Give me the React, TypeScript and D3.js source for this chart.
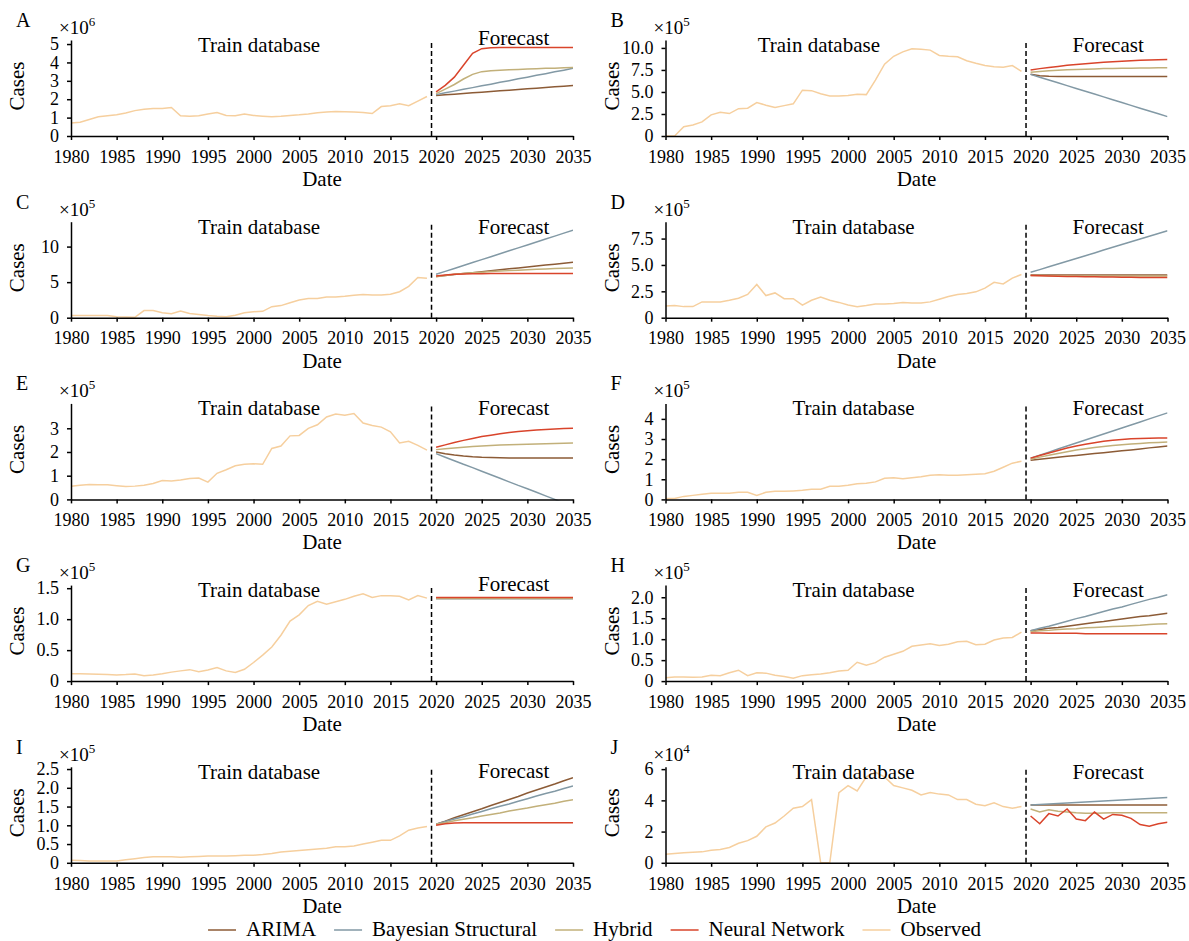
import React, { useEffect, useRef } from 'react';
import * as d3 from 'd3';

const years = d3.range(1980, 2020);
const forecastYears = d3.range(2020, 2036);

const panelIds = ['A', 'B', 'C', 'D', 'E', 'F', 'G', 'H', 'I', 'J'];
const exponents = [6, 5, 5, 5, 5, 5, 5, 5, 5, 4];
const yMax = [5.22, 10.9, 13.5, 9.1, 4.05, 4.77, 1.55, 2.29, 2.56, 6.15];
const yTicks = [
  [0, 1, 2, 3, 4, 5],
  [0, 2.5, 5, 7.5, 10],
  [0, 5, 10],
  [0, 2.5, 5, 7.5],
  [0, 1, 2, 3],
  [0, 1, 2, 3, 4],
  [0, 0.5, 1, 1.5],
  [0, 0.5, 1, 1.5, 2],
  [0, 0.5, 1, 1.5, 2, 2.5],
  [0, 2, 4, 6],
];
const yDecimals = [0, 1, 0, 1, 0, 0, 1, 1, 1, 0];
// year where "Train database" is centred, and lift of the "Forecast" label
const trainCenter = [2000.6, 1996.8, 2000.6, 2000.6, 2000.6, 2000.6, 2000.6, 2000.6, 2000.6, 2000.6];
const forecastLift = [7, 0, 0, 0, 0, 0, 6, 0, 1, 0];

// observed, 1980-2019
const obsA = [0.70, 0.75, 0.90, 1.05, 1.10, 1.15, 1.25, 1.38, 1.45, 1.50, 1.50, 1.55, 1.10, 1.07, 1.10, 1.20, 1.28, 1.12, 1.10, 1.20, 1.12, 1.08, 1.05, 1.07, 1.12, 1.15, 1.20, 1.27, 1.30, 1.33, 1.32, 1.30, 1.28, 1.22, 1.60, 1.65, 1.75, 1.65, 1.90, 2.15];
const obsB = [0, 0, 1.05, 1.25, 1.60, 2.40, 2.70, 2.55, 3.10, 3.15, 3.80, 3.50, 3.25, 3.45, 3.65, 5.20, 5.15, 4.80, 4.55, 4.55, 4.60, 4.75, 4.70, 6.35, 8.15, 9.05, 9.55, 9.90, 9.85, 9.75, 9.15, 9.05, 9.00, 8.55, 8.25, 8.00, 7.85, 7.80, 8.00, 7.35];
const obsC = [0.30, 0.30, 0.30, 0.30, 0.30, 0.15, 0.10, 0.05, 1.00, 1.00, 0.70, 0.55, 0.95, 0.60, 0.45, 0.30, 0.20, 0.15, 0.35, 0.70, 0.85, 0.90, 1.55, 1.70, 2.10, 2.50, 2.70, 2.70, 2.90, 2.90, 3.00, 3.15, 3.25, 3.20, 3.20, 3.30, 3.65, 4.40, 5.65, 5.55];
const obsD = [1.10, 1.15, 1.05, 1.05, 1.50, 1.50, 1.50, 1.65, 1.85, 2.20, 3.15, 2.10, 2.35, 1.80, 1.80, 1.20, 1.65, 1.95, 1.65, 1.45, 1.20, 1.05, 1.15, 1.30, 1.30, 1.35, 1.45, 1.40, 1.40, 1.50, 1.75, 2.00, 2.20, 2.30, 2.45, 2.80, 3.35, 3.20, 3.75, 4.10];
const obsE = [0.55, 0.60, 0.63, 0.62, 0.62, 0.58, 0.54, 0.56, 0.60, 0.67, 0.80, 0.78, 0.82, 0.88, 0.90, 0.73, 1.10, 1.25, 1.42, 1.48, 1.50, 1.48, 2.15, 2.25, 2.68, 2.70, 3.00, 3.15, 3.48, 3.60, 3.55, 3.62, 3.22, 3.12, 3.05, 2.85, 2.38, 2.45, 2.28, 2.08];
const obsF = [0.05, 0.05, 0.15, 0.20, 0.25, 0.30, 0.30, 0.30, 0.35, 0.35, 0.20, 0.35, 0.40, 0.40, 0.42, 0.45, 0.50, 0.50, 0.65, 0.65, 0.70, 0.78, 0.80, 0.87, 1.05, 1.07, 1.03, 1.08, 1.12, 1.20, 1.22, 1.20, 1.20, 1.22, 1.25, 1.28, 1.40, 1.60, 1.80, 1.90];
const obsG = [0.12, 0.12, 0.115, 0.11, 0.105, 0.10, 0.105, 0.115, 0.085, 0.10, 0.12, 0.145, 0.165, 0.185, 0.15, 0.18, 0.22, 0.165, 0.14, 0.19, 0.30, 0.42, 0.55, 0.74, 0.97, 1.07, 1.22, 1.29, 1.24, 1.28, 1.32, 1.37, 1.41, 1.35, 1.38, 1.38, 1.37, 1.31, 1.38, 1.34];
const obsH = [0.08, 0.10, 0.10, 0.09, 0.10, 0.14, 0.13, 0.20, 0.26, 0.13, 0.20, 0.19, 0.14, 0.11, 0.07, 0.13, 0.15, 0.17, 0.20, 0.24, 0.26, 0.45, 0.38, 0.44, 0.57, 0.64, 0.71, 0.83, 0.86, 0.89, 0.85, 0.88, 0.94, 0.95, 0.87, 0.88, 0.98, 1.03, 1.04, 1.17];
const obsI = [0.07, 0.06, 0.05, 0.05, 0.05, 0.05, 0.08, 0.11, 0.14, 0.16, 0.16, 0.16, 0.15, 0.16, 0.17, 0.18, 0.18, 0.18, 0.19, 0.20, 0.20, 0.22, 0.25, 0.29, 0.31, 0.33, 0.35, 0.37, 0.39, 0.43, 0.43, 0.45, 0.50, 0.55, 0.60, 0.60, 0.72, 0.87, 0.93, 0.97];
const obsJ = [0.55, 0.60, 0.65, 0.68, 0.70, 0.80, 0.85, 0.98, 1.25, 1.42, 1.70, 2.30, 2.55, 3.00, 3.50, 3.60, 4.05, 0, 0, 4.50, 4.95, 4.60, 5.50, 5.80, 5.50, 4.95, 4.80, 4.65, 4.35, 4.50, 4.40, 4.35, 4.05, 4.05, 3.75, 3.65, 3.85, 3.60, 3.50, 3.60];

// forecasts, 2020-2035
const arimaA = [2.20, 2.24, 2.27, 2.31, 2.35, 2.38, 2.42, 2.46, 2.49, 2.53, 2.57, 2.60, 2.64, 2.68, 2.71, 2.75];
const bayesA = [2.25, 2.35, 2.44, 2.54, 2.63, 2.73, 2.82, 2.92, 3.01, 3.11, 3.20, 3.30, 3.39, 3.49, 3.58, 3.68];
const hybridA = [2.30, 2.55, 2.80, 3.10, 3.35, 3.50, 3.55, 3.58, 3.60, 3.62, 3.64, 3.66, 3.68, 3.69, 3.71, 3.72];
const nnA = [2.40, 2.75, 3.20, 3.85, 4.50, 4.75, 4.80, 4.81, 4.81, 4.81, 4.81, 4.81, 4.81, 4.81, 4.81, 4.81];

const arimaB = [7.00, 6.85, 6.78, 6.76, 6.75, 6.75, 6.75, 6.75, 6.75, 6.75, 6.75, 6.75, 6.75, 6.75, 6.75, 6.75];
const bayesB = [7.00, 6.68, 6.36, 6.04, 5.72, 5.40, 5.08, 4.76, 4.44, 4.12, 3.80, 3.48, 3.16, 2.84, 2.52, 2.20];
const hybridB = [7.25, 7.33, 7.40, 7.46, 7.51, 7.55, 7.59, 7.62, 7.65, 7.67, 7.69, 7.70, 7.72, 7.73, 7.74, 7.75];
const nnB = [7.50, 7.65, 7.78, 7.90, 8.02, 8.12, 8.21, 8.29, 8.36, 8.43, 8.49, 8.54, 8.59, 8.63, 8.67, 8.70];

const arimaC = [5.80, 5.93, 6.07, 6.20, 6.33, 6.47, 6.60, 6.73, 6.87, 7.00, 7.13, 7.27, 7.40, 7.53, 7.67, 7.80];
const bayesC = [6.10, 6.51, 6.93, 7.34, 7.75, 8.17, 8.58, 8.99, 9.41, 9.82, 10.23, 10.65, 11.06, 11.47, 11.89, 12.30];
const hybridC = [5.75, 5.95, 6.10, 6.22, 6.32, 6.40, 6.48, 6.55, 6.62, 6.68, 6.74, 6.80, 6.86, 6.91, 6.96, 7.00];
const nnC = [5.85, 6.00, 6.10, 6.15, 6.18, 6.19, 6.20, 6.20, 6.20, 6.20, 6.20, 6.20, 6.20, 6.20, 6.20, 6.20];

const arimaD = [4.05, 4.05, 4.05, 4.05, 4.05, 4.05, 4.05, 4.05, 4.05, 4.05, 4.05, 4.05, 4.05, 4.05, 4.05, 4.05];
const bayesD = [4.30, 4.56, 4.83, 5.09, 5.35, 5.62, 5.88, 6.14, 6.41, 6.67, 6.93, 7.20, 7.46, 7.72, 7.99, 8.25];
const hybridD = [4.00, 3.99, 3.98, 3.97, 3.97, 3.96, 3.96, 3.96, 3.95, 3.95, 3.95, 3.95, 3.95, 3.95, 3.95, 3.95];
const nnD = [4.00, 3.97, 3.95, 3.93, 3.91, 3.90, 3.88, 3.87, 3.86, 3.85, 3.84, 3.83, 3.82, 3.81, 3.80, 3.80];

const arimaE = [2.00, 1.93, 1.87, 1.83, 1.80, 1.78, 1.77, 1.76, 1.75, 1.75, 1.75, 1.75, 1.75, 1.75, 1.75, 1.75];
const bayesE = [1.93, 1.78, 1.63, 1.48, 1.34, 1.19, 1.04, 0.89, 0.74, 0.59, 0.45, 0.30, 0.15, 0.00, -0.15, -0.30];
const hybridE = [2.10, 2.14, 2.17, 2.20, 2.23, 2.25, 2.27, 2.29, 2.31, 2.32, 2.33, 2.34, 2.35, 2.36, 2.37, 2.38];
const nnE = [2.20, 2.30, 2.40, 2.49, 2.57, 2.65, 2.71, 2.77, 2.82, 2.86, 2.90, 2.93, 2.95, 2.97, 2.99, 3.00];

const arimaF = [1.95, 2.00, 2.04, 2.09, 2.14, 2.18, 2.23, 2.28, 2.32, 2.37, 2.42, 2.46, 2.51, 2.56, 2.60, 2.65];
const bayesF = [2.05, 2.20, 2.35, 2.50, 2.65, 2.80, 2.95, 3.10, 3.25, 3.40, 3.55, 3.70, 3.85, 4.00, 4.15, 4.30];
const hybridF = [2.00, 2.10, 2.19, 2.28, 2.37, 2.45, 2.52, 2.58, 2.63, 2.68, 2.72, 2.75, 2.78, 2.81, 2.83, 2.85];
const nnF = [2.05, 2.18, 2.31, 2.43, 2.55, 2.65, 2.74, 2.82, 2.89, 2.94, 2.98, 3.01, 3.03, 3.04, 3.05, 3.05];

const arimaG = [1.34, 1.34, 1.34, 1.34, 1.34, 1.34, 1.34, 1.34, 1.34, 1.34, 1.34, 1.34, 1.34, 1.34, 1.34, 1.34];
const bayesG = [1.33, 1.33, 1.33, 1.33, 1.33, 1.33, 1.33, 1.33, 1.33, 1.33, 1.33, 1.33, 1.33, 1.33, 1.33, 1.33];
const hybridG = [1.335, 1.335, 1.335, 1.335, 1.335, 1.335, 1.335, 1.335, 1.335, 1.335, 1.335, 1.335, 1.335, 1.335, 1.335, 1.335];
const nnG = [1.35, 1.35, 1.35, 1.35, 1.35, 1.35, 1.35, 1.35, 1.35, 1.35, 1.35, 1.35, 1.35, 1.35, 1.35, 1.35];

const arimaH = [1.20, 1.23, 1.26, 1.28, 1.31, 1.34, 1.37, 1.40, 1.42, 1.45, 1.48, 1.51, 1.54, 1.56, 1.59, 1.62];
const bayesH = [1.20, 1.26, 1.31, 1.37, 1.43, 1.49, 1.54, 1.60, 1.66, 1.72, 1.77, 1.83, 1.89, 1.95, 2.00, 2.06];
const hybridH = [1.18, 1.20, 1.21, 1.23, 1.24, 1.25, 1.27, 1.28, 1.29, 1.30, 1.31, 1.32, 1.33, 1.35, 1.36, 1.37];
const nnH = [1.15, 1.15, 1.14, 1.14, 1.14, 1.14, 1.13, 1.13, 1.13, 1.13, 1.13, 1.13, 1.13, 1.13, 1.13, 1.13];

const arimaI = [1.03, 1.11, 1.20, 1.28, 1.36, 1.44, 1.53, 1.61, 1.69, 1.77, 1.86, 1.94, 2.02, 2.10, 2.19, 2.27];
const bayesI = [1.03, 1.10, 1.17, 1.23, 1.30, 1.37, 1.44, 1.51, 1.57, 1.64, 1.71, 1.78, 1.85, 1.91, 1.98, 2.05];
const hybridI = [1.03, 1.07, 1.12, 1.16, 1.20, 1.25, 1.29, 1.33, 1.38, 1.42, 1.46, 1.51, 1.55, 1.59, 1.64, 1.68];
const nnI = [1.00, 1.04, 1.06, 1.07, 1.07, 1.07, 1.07, 1.07, 1.07, 1.07, 1.07, 1.07, 1.07, 1.07, 1.07, 1.07];

const arimaJ = [3.70, 3.70, 3.70, 3.70, 3.70, 3.70, 3.70, 3.70, 3.70, 3.70, 3.70, 3.70, 3.70, 3.70, 3.70, 3.70];
const bayesJ = [3.70, 3.73, 3.76, 3.80, 3.83, 3.86, 3.89, 3.92, 3.96, 3.99, 4.02, 4.05, 4.08, 4.12, 4.15, 4.18];
const hybridJ = [3.45, 3.25, 3.40, 3.30, 3.25, 3.20, 3.18, 3.18, 3.19, 3.20, 3.20, 3.20, 3.20, 3.20, 3.20, 3.20];
const nnJ = [3.00, 2.50, 3.15, 3.00, 3.45, 2.80, 2.70, 3.25, 2.80, 3.10, 3.05, 2.85, 2.45, 2.35, 2.50, 2.60];

const observed = [obsA, obsB, obsC, obsD, obsE, obsF, obsG, obsH, obsI, obsJ];
const arima = [arimaA, arimaB, arimaC, arimaD, arimaE, arimaF, arimaG, arimaH, arimaI, arimaJ];
const bayes = [bayesA, bayesB, bayesC, bayesD, bayesE, bayesF, bayesG, bayesH, bayesI, bayesJ];
const hybrid = [hybridA, hybridB, hybridC, hybridD, hybridE, hybridF, hybridG, hybridH, hybridI, hybridJ];
const nn = [nnA, nnB, nnC, nnD, nnE, nnF, nnG, nnH, nnI, nnJ];

const seriesNames = ['ARIMA', 'Bayesian Structural', 'Hybrid', 'Neural Network', 'Observed'];
const seriesColors = ['#8c5b36', '#8299a5', '#c2b07a', '#d9442b', '#f6cf9e'];

const FONT = '"Liberation Serif", "Times New Roman", serif';

export default function App() {
  const ref = useRef<SVGSVGElement>(null);

  useEffect(() => {
    const svg = d3.select(ref.current);
    svg.selectAll('*').remove();
    svg.attr('font-family', FONT);

    const line = (x, y) =>
      d3.line<[number, number]>().x(d => x(d[0])).y(d => y(d[1]));

    panelIds.forEach((id, i) => {
      const col = i % 2;
      const row = Math.floor(i / 2);
      const left = col * 594.5;
      const x0 = left + 71;
      const x1 = left + 573;
      const y0 = 136 + row * 181.7;
      const yTop = y0 - 96;

      const x = d3.scaleLinear().domain([1980, 2035]).range([x0, x1]);
      const y = d3.scaleLinear().domain([0, yMax[i]]).range([y0, yTop]);
      const g = svg.append('g');

      g.append('clipPath').attr('id', 'clip-' + id)
        .append('rect')
        .attr('x', x0).attr('y', yTop)
        .attr('width', x1 - x0).attr('height', y0 - yTop + 1);

      const lines = g.append('g').attr('clip-path', `url(#clip-${id})`);
      const mk = line(x, y);

      lines.append('path')
        .datum(years.map((yr, k) => [yr, observed[i][k]]))
        .attr('d', mk).attr('fill', 'none')
        .attr('stroke', seriesColors[4]).attr('stroke-width', 1.5);

      [arima, bayes, hybrid, nn].forEach((set, s) => {
        lines.append('path')
          .datum(forecastYears.map((yr, k) => [yr, set[i][k]]))
          .attr('d', mk).attr('fill', 'none')
          .attr('stroke', seriesColors[s]).attr('stroke-width', 1.5);
      });

      // divider between train and forecast
      g.append('line')
        .attr('x1', x(2019.5)).attr('x2', x(2019.5))
        .attr('y1', y0).attr('y2', yTop)
        .attr('stroke', '#000').attr('stroke-width', 1.5)
        .attr('stroke-dasharray', '5,3');

      const xAxis = g.append('g')
        .attr('transform', `translate(0,${y0})`)
        .call(d3.axisBottom(x).tickValues(d3.range(1980, 2036, 5))
          .tickFormat(d3.format('d')).tickSize(4).tickSizeOuter(0).tickPadding(10));
      const yAxis = g.append('g')
        .attr('transform', `translate(${x0},0)`)
        .call(d3.axisLeft(y).tickValues(yTicks[i])
          .tickFormat(v => (v === 0 ? '0' : (+v).toFixed(yDecimals[i])))
          .tickSize(4).tickSizeOuter(0).tickPadding(8));
      [xAxis, yAxis].forEach(a => {
        a.attr('font-family', FONT).attr('font-size', 18);
        a.selectAll('path, line').attr('stroke', '#000').attr('stroke-width', 1.5);
        a.selectAll('text').attr('fill', '#000');
      });

      g.append('text').attr('x', (x0 + x1) / 2).attr('y', y0 + 50)
        .attr('text-anchor', 'middle').attr('font-size', 21).text('Date');

      g.append('text')
        .attr('transform', `translate(${left + 24},${y0 - 50}) rotate(-90)`)
        .attr('text-anchor', 'middle').attr('font-size', 21).text('Cases');

      g.append('text').attr('x', left + 16).attr('y', y0 - 109)
        .attr('font-size', 20).text(id);

      const ex = g.append('text').attr('x', left + 59).attr('y', y0 - 102)
        .attr('font-size', 19);
      ex.append('tspan').text('×10');
      ex.append('tspan').attr('font-size', 13).attr('dy', -8).text(String(exponents[i]));

      g.append('text').attr('x', x(trainCenter[i])).attr('y', y0 - 84)
        .attr('text-anchor', 'middle').attr('font-size', 21).text('Train database');

      g.append('text').attr('x', x(2028.5)).attr('y', y0 - 84 - forecastLift[i])
        .attr('text-anchor', 'middle').attr('font-size', 21).text('Forecast');
    });

    // legend, centred under the panels
    const legend = svg.append('g').attr('font-size', 21);
    const items = seriesNames.map((name, k) => {
      const it = legend.append('g');
      it.append('line').attr('x1', 0).attr('x2', 28).attr('y1', 0).attr('y2', 0)
        .attr('stroke', seriesColors[k]).attr('stroke-width', 1.5);
      const t = it.append('text').attr('x', 38).attr('dy', '0.3em').text(name);
      const w = (t.node() as SVGTextElement).getComputedTextLength();
      return { it, w: 38 + w };
    });
    const gap = 18;
    const total = d3.sum(items, d => d.w) + gap * (items.length - 1);
    let cx = 594.5 - total / 2;
    items.forEach(d => {
      d.it.attr('transform', `translate(${cx},930)`);
      cx += d.w + gap;
    });
  }, []);

  return (
    <svg
      ref={ref}
      width={1189}
      height={941}
      style={{ position: 'absolute', left: 0, top: 0, background: '#fff' }}
    />
  );
}
